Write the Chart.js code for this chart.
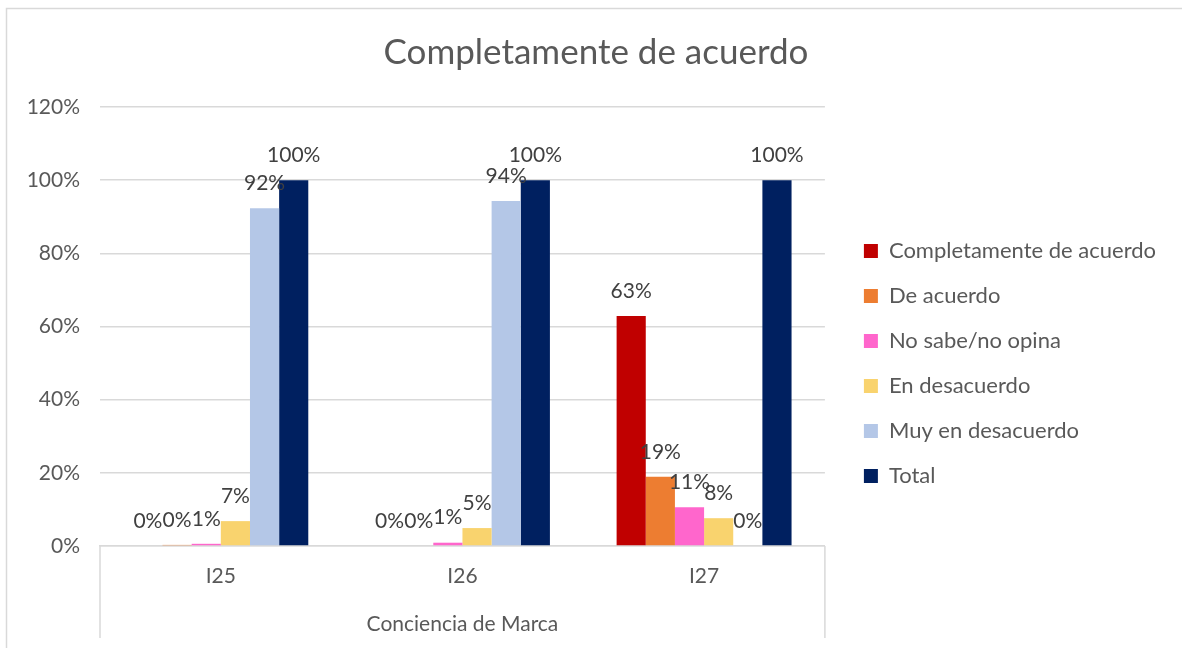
<!DOCTYPE html>
<html>
<head>
<meta charset="utf-8">
<script src="https://cdn.jsdelivr.net/npm/chart.js"></script>
<style>
  html, body { margin: 0; padding: 0; background: #ffffff; }
  #wrap { width: 1182px; height: 648px; position: relative; }
</style>
</head>
<body>
<div id="wrap"><canvas id="c"></canvas></div>
<script>
// ---- data ----
const categories = ['I25', 'I26', 'I27'];
const seriesNames = ['Completamente de acuerdo', 'De acuerdo', 'No sabe/no opina', 'En desacuerdo', 'Muy en desacuerdo', 'Total'];
const completamente = [0, 0, 62.9];
const deAcuerdo = [0.3, 0, 18.9];
const noSabe = [0.6, 0.9, 10.6];
const enDesacuerdo = [6.8, 4.9, 7.6];
const muyEnDesacuerdo = [92.3, 94.3, 0];
const total = [100, 100, 100];
const yTicks = [0, 20, 40, 60, 80, 100, 120];
const titleText = 'Completamente de acuerdo';
const xTitle = 'Conciencia de Marca';

const seriesValues = [completamente, deAcuerdo, noSabe, enDesacuerdo, muyEnDesacuerdo, total];
const seriesColors = ['#C00000', '#ED7D31', '#FF66CC', '#F9D36E', '#B4C7E7', '#002060'];

const FONT = 'Lato';
const legendFontSize = 22;
const legendPad = 23;
const legendBox = 14;

// measure legend text to position the legend box
const mctx = document.createElement('canvas').getContext('2d');
mctx.font = 'normal ' + legendFontSize + 'px ' + FONT;
const tw = Math.max(...seriesNames.map(n => mctx.measureText(n).width));
const legendW = legendPad + legendBox + legendFontSize / 2 + tw + 10;
let padR = Math.round(1182 - 841 - legendW);
if (padR < 0) padR = 0;
const padL = padR + 10;

const legendWidthFix = {
  id: 'legendWidthFix',
  afterInit(chart) {
    const lg = chart.legend;
    if (lg && !lg._wfix) {
      const orig = lg.update;
      lg.update = function (maxWidth, maxHeight, margins) {
        return orig.call(this, 600, maxHeight, margins);
      };
      lg._wfix = true;
    }
  }
};

const borderPlugin = {
  id: 'outerBorder',
  beforeDraw(chart) {
    const ctx = chart.ctx;
    ctx.save();
    ctx.fillStyle = '#ffffff';
    ctx.fillRect(0, 0, chart.width, chart.height);
    ctx.strokeStyle = '#d9d9d9';
    ctx.lineWidth = 1.5;
    ctx.strokeRect(6.5, 8.5, chart.width + 20, chart.height + 20);
    ctx.restore();
  },
  afterDraw(chart) {
    const ctx = chart.ctx;
    const a = chart.chartArea;
    ctx.save();
    ctx.strokeStyle = '#d9d9d9';
    ctx.lineWidth = 1.5;
    ctx.beginPath();
    ctx.moveTo(a.left, a.bottom);
    ctx.lineTo(a.left, a.bottom + 92);
    ctx.moveTo(a.right, a.bottom);
    ctx.lineTo(a.right, a.bottom + 92);
    ctx.stroke();
    ctx.restore();
  }
};

const labelPlugin = {
  id: 'barLabels',
  afterDatasetsDraw(chart) {
    const ctx = chart.ctx;
    ctx.save();
    ctx.font = 'normal 21px ' + FONT;
    ctx.fillStyle = '#404040';
    ctx.textAlign = 'center';
    ctx.textBaseline = 'middle';
    chart.data.datasets.forEach((ds, i) => {
      const meta = chart.getDatasetMeta(i);
      meta.data.forEach((el, j) => {
        const v = ds.data[j];
        ctx.fillText(Math.round(v) + '%', el.x, el.y - 25);
      });
    });
    ctx.restore();
  }
};

new Chart(document.getElementById('c'), {
  type: 'bar',
  data: {
    labels: categories,
    datasets: seriesNames.map((name, i) => ({
      label: name,
      data: seriesValues[i],
      backgroundColor: seriesColors[i],
      borderWidth: 0,
      xAxisID: 'x',
      yAxisID: 'y',
      categoryPercentage: 0.724,
      barPercentage: 1.0
    }))
  },
  options: {
    responsive: true,
    maintainAspectRatio: false,
    animation: false,
    devicePixelRatio: 1,
    layout: { padding: { left: padL, right: padR, top: 0, bottom: 0 } },
    plugins: {
      title: {
        display: true,
        text: titleText,
        color: '#595959',
        font: { family: FONT, size: 35, weight: 'normal' },
        padding: { top: 32, bottom: 5 }
      },
      legend: {
        display: true,
        position: 'right',
        align: 'center',
        title: {
          display: true,
          text: ' ',
          font: { family: FONT, size: 10 },
          padding: { top: 67, bottom: 0 }
        },
        labels: {
          color: '#595959',
          font: { family: FONT, size: legendFontSize },
          boxWidth: legendBox,
          boxHeight: legendBox,
          padding: legendPad
        }
      },
      tooltip: { enabled: false }
    },
    scales: {
      y: {
        type: 'linear',
        position: 'left',
        min: 0,
        max: 120,
        afterBuildTicks(s) { s.ticks = yTicks.map(v => ({ value: v })); },
        ticks: {
          color: '#595959',
          font: { family: FONT, size: 21 },
          padding: 20,
          callback: v => v + '%'
        },
        grid: { color: '#d9d9d9', lineWidth: 1.5, drawTicks: false },
        border: { display: false },
        afterFit(s) { s.width = 100 - padL; }
      },
      x: {
        type: 'category',
        position: 'bottom',
        grid: { display: false, drawTicks: false },
        border: { display: true, color: '#d9d9d9', width: 1.5 },
        ticks: {
          color: '#595959',
          font: { family: FONT, size: 21 },
          padding: 18
        },
        title: {
          display: true,
          text: xTitle,
          color: '#595959',
          font: { family: FONT, size: 21 },
          padding: { top: 0, bottom: 11 }
        },
        afterFit(s) { s.height = 102; }
      },
      topSpacer: {
        type: 'linear',
        position: 'top',
        axis: 'x',
        display: true,
        grid: { display: false, drawTicks: false },
        border: { display: false },
        ticks: { display: false },
        afterFit(s) { s.height = 28; }
      },
      rightSpacer: {
        type: 'linear',
        position: 'right',
        axis: 'y',
        display: true,
        grid: { display: false, drawTicks: false },
        border: { display: false },
        ticks: { display: false },
        afterFit(s) { s.width = 16; }
      }
    }
  },
  plugins: [legendWidthFix, borderPlugin, labelPlugin]
});
</script>
</body>
</html>
